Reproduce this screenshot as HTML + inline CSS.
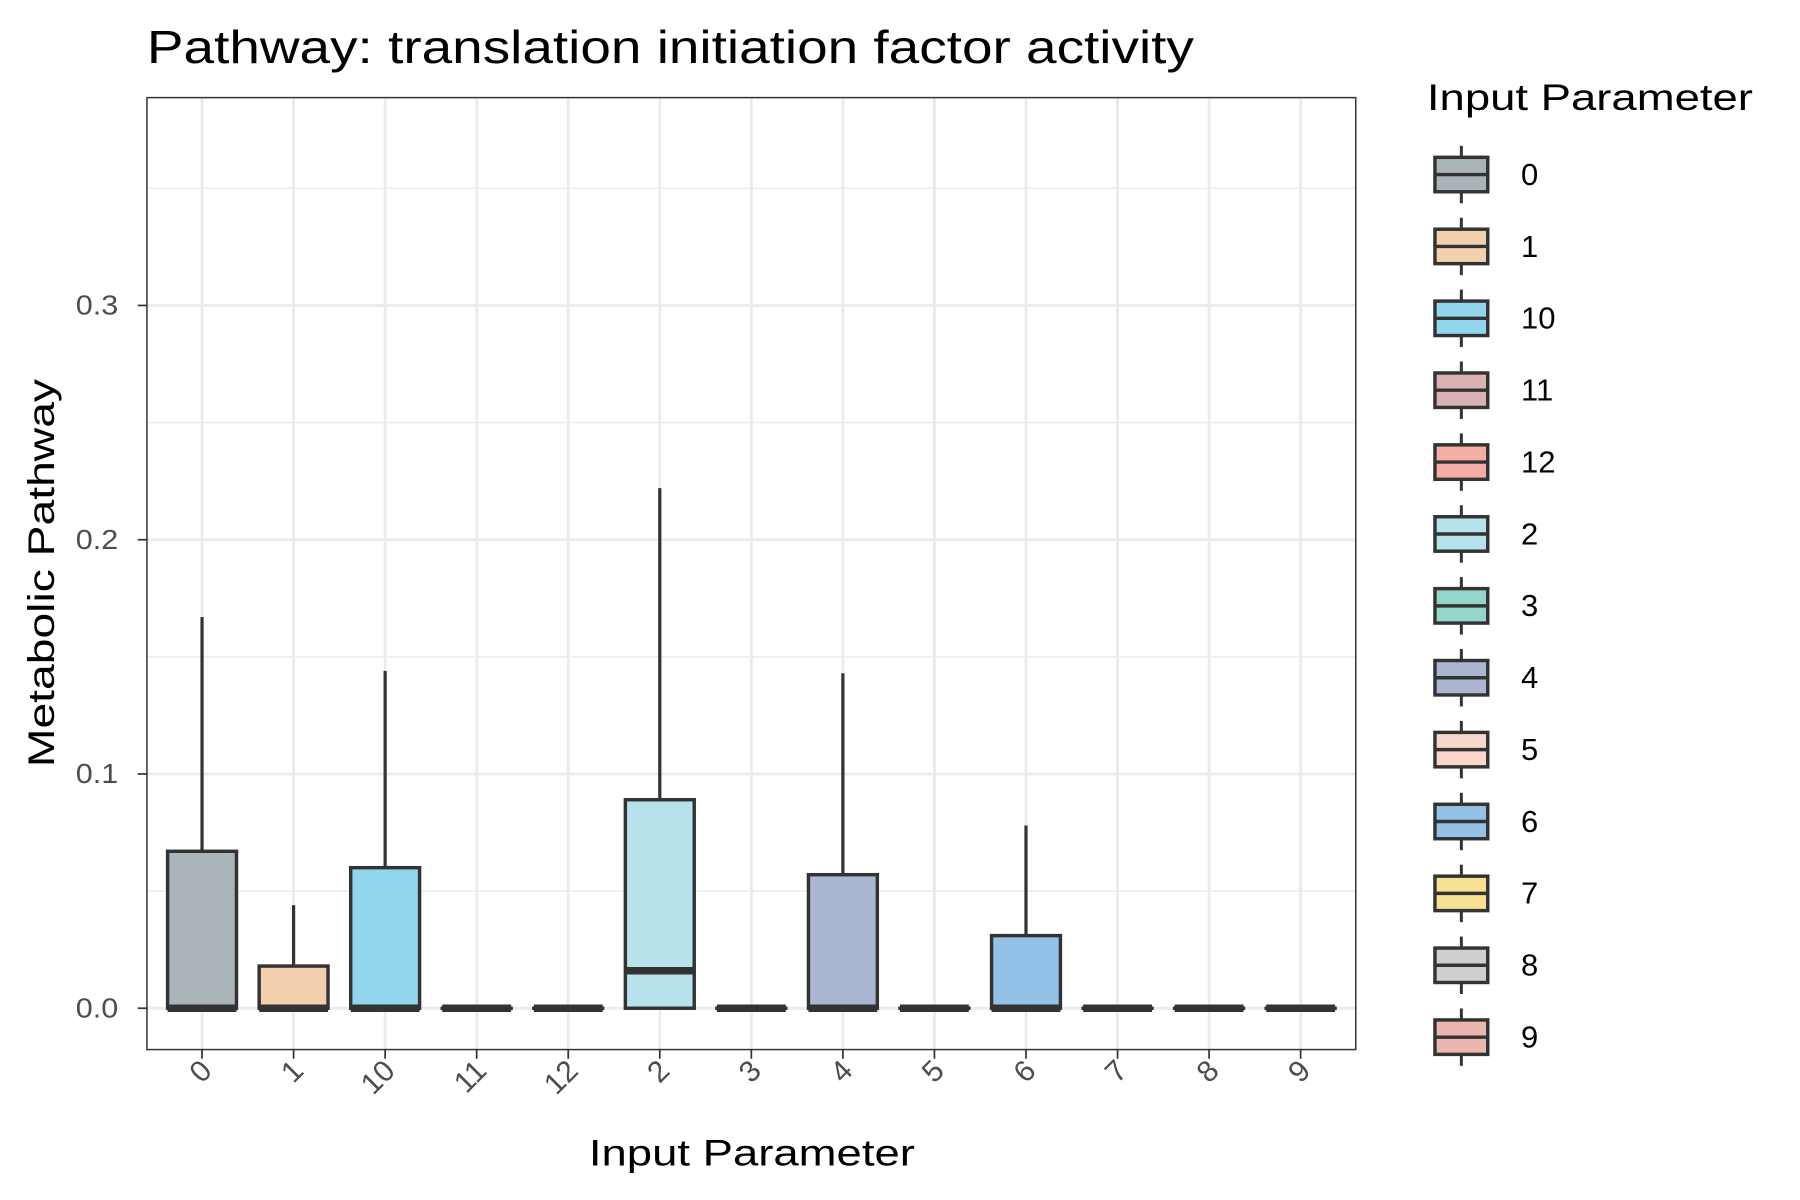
<!DOCTYPE html>
<html><head><meta charset="utf-8"><style>
html,body{margin:0;padding:0;background:#fff;}
svg{display:block;font-family:"Liberation Sans",Arial,sans-serif;}
</style></head><body>
<svg id="chart" width="1800" height="1200" viewBox="0 0 1568 1045" preserveAspectRatio="none">
<rect x="0" y="0" width="1568" height="1045" fill="#fff"/>
<text x="128" y="55" font-size="40" textLength="912" lengthAdjust="spacingAndGlyphs" fill="#000">Pathway: translation initiation factor activity</text>
<g id="grid"></g>
<g id="boxes"></g>
<rect x="128" y="85" width="1053" height="829" fill="none" stroke="#333" stroke-width="1.3"/>
<g id="axes"></g>
<text x="655" y="1015" font-size="32" textLength="284" lengthAdjust="spacingAndGlyphs" text-anchor="middle" fill="#000">Input Parameter</text>
<text transform="translate(47,499) rotate(-90)" font-size="32" textLength="338" lengthAdjust="spacingAndGlyphs" text-anchor="middle" fill="#000">Metabolic Pathway</text>
<text x="1243" y="96" font-size="32" textLength="284" lengthAdjust="spacingAndGlyphs" fill="#000">Input Parameter</text>
<g id="legend"></g>
</svg>
<script>
const categories = ["0","1","10","11","12","2","3","4","5","6","7","8","9"];
const q1Values = [0,0,0,0,0,0,0,0,0,0,0,0,0];
const medianValues = [0,0,0,0,0,0.016,0,0,0,0,0,0,0];
const q3Values = [0.067,0.018,0.060,0,0,0.089,0,0.057,0,0.031,0,0,0];
const whiskerLow = [0,0,0,0,0,0,0,0,0,0,0,0,0];
const whiskerHigh = [0.167,0.044,0.144,0,0,0.222,0,0.143,0,0.078,0,0,0];
const colors = ["#aab4b8","#f2d0ae","#92d6ee","#dbb2b2","#f4aea5","#b6e2ec","#94d7ca","#abb7d0","#f9d7cc","#93c2e6","#f8e092","#cfcfcf","#ebb5b0"];
const yTicks = [0,0.1,0.2,0.3];
const yTickLabels = ["0.0","0.1","0.2","0.3"];

const NS="http://www.w3.org/2000/svg";
const y = v => 878 - v*2040;
const x = i => 176 + i*79.75;
function mk(tag, attrs, parent){const e=document.createElementNS(NS,tag);for(const k in attrs)e.setAttribute(k,attrs[k]);parent.appendChild(e);return e;}
const grid=document.getElementById('grid'), boxes=document.getElementById('boxes'), axes=document.getElementById('axes'), legend=document.getElementById('legend');

for(let v=0.05; v<0.39; v+=0.1){
  const l=mk('line',{x1:128,x2:1181,y1:y(v),y2:y(v),stroke:'#ebebeb','stroke-width':1.2},grid);
  
  
}
yTicks.forEach((v,i)=>{
  const l=mk('line',{x1:128,x2:1181,y1:y(v),y2:y(v),stroke:'#ebebeb','stroke-width':2.4},grid);
  
  
  const t=mk('line',{x1:120,x2:128,y1:y(v),y2:y(v),stroke:'#333','stroke-width':1.5},axes);
  
  
  const tx=mk('text',{x:103,y:y(v)+8,'font-size':24,textLength:37,lengthAdjust:'spacingAndGlyphs','text-anchor':'end',fill:'#4d4d4d'},axes);
  tx.textContent=yTickLabels[i];
  
  
});
categories.forEach((c,i)=>{
  const cx=x(i);
  const g=mk('line',{x1:cx,x2:cx,y1:85,y2:914,stroke:'#ebebeb','stroke-width':2.4},grid);
  
  
  const t=mk('line',{x1:cx,x2:cx,y1:914,y2:922,stroke:'#333','stroke-width':1.5},axes);
  
  
  const tx=mk('text',{transform:`translate(${cx+10},${934}) rotate(-45)`,'font-size':26,'text-anchor':'end',fill:'#4d4d4d'},axes);
  tx.textContent=c;
  
  
  const bg=mk('g',{},boxes);
  
  
  if(whiskerHigh[i]>q3Values[i]){
    const w=mk('line',{x1:cx,x2:cx,y1:y(q3Values[i]),y2:y(whiskerHigh[i]),stroke:'#333','stroke-width':2.8},bg);
    
    
  }
  const top=y(q3Values[i]), bot=y(q1Values[i]);
  const r=mk('rect',{x:cx-30,y:top,width:60,height:Math.max(bot-top,0.01),fill:colors[i],stroke:'#333','stroke-width':3},bg);
  
  
  const m=mk('line',{x1:cx-30,x2:cx+30,y1:y(medianValues[i]),y2:y(medianValues[i]),stroke:'#333','stroke-width':6.5},bg);
  
  
  const ly=152+i*62.6;
  const lg=mk('g',{},legend);
  
  
  mk('line',{x1:1273,x2:1273,y1:ly-25,y2:ly+25,stroke:'#333','stroke-width':2.6},lg);
  mk('rect',{x:1250,y:ly-15,width:46,height:30,fill:colors[i],stroke:'#333','stroke-width':3},lg);
  mk('line',{x1:1250,x2:1296,y1:ly,y2:ly,stroke:'#333','stroke-width':3},lg);
  const lt=mk('text',{x:1325,y:ly+9,'font-size':27,fill:'#000'},lg);
  lt.textContent=c;
  
  
});
</script>
</body></html>
